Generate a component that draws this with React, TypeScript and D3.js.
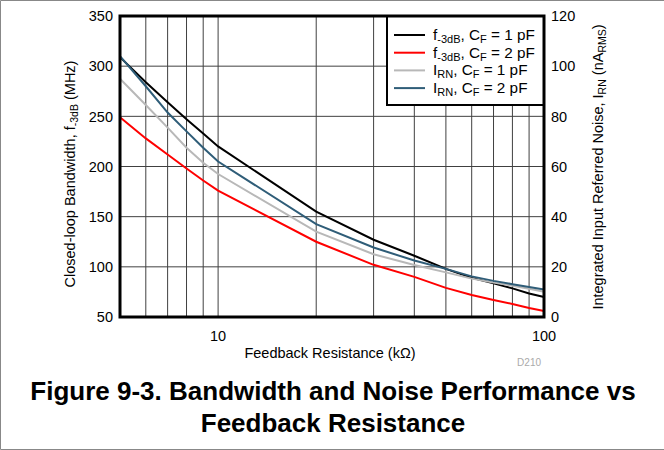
import * as d3 from 'd3'
import React from 'react'

// feedback resistance (kOhm)
const rf = [5, 6, 7, 8, 9, 10, 20, 30, 40, 50, 60, 70, 80, 90, 100]
// closed-loop bandwidth (MHz), left axis
const bw1pF = [309, 284, 264, 247, 233, 220, 155, 127, 111, 98, 89, 83.5, 78.5, 73.5, 70]
const bw2pF = [249, 228, 212, 198, 186, 176, 125, 102, 90, 79, 72, 67, 63, 59, 56]
// integrated input referred noise (nA rms), right axis
const irn1pF = [95, 84.5, 75.5, 67.5, 61.5, 57, 34, 25, 20.7, 17.8, 15.3, 13.7, 12.5, 11.3, 10.1]
const irn2pF = [104, 92, 81.5, 74, 67.5, 62, 37, 27.7, 22.5, 19.2, 16.2, 14.4, 13.1, 12, 11]

const leftTicks = [50, 100, 150, 200, 250, 300, 350]
const rightTicks = [0, 20, 40, 60, 80, 100, 120]
const xLabels = [10, 100]
const xGrid = [6, 7, 8, 9, 10, 20, 30, 40, 50, 60, 70, 80, 90]

const font = 'Liberation Sans, Arial, Helvetica, sans-serif'

export default function App() {
  const
    W = 664, H = 450,
    m = { left: 120, right: 544, top: 16, bottom: 317 },
    x = d3.scaleLog().domain([5, 100]).range([m.left, m.right]),
    yL = d3.scaleLinear().domain([50, 350]).range([m.bottom, m.top]),
    yR = d3.scaleLinear().domain([0, 120]).range([m.bottom, m.top])

  const lineOn = (scale: d3.ScaleLinear<number, number>, vals: number[]) =>
    d3.line<number>().x((_, i) => x(rf[i])).y(d => scale(d))(vals) as string

  const series = [
    { vals: bw1pF, scale: yL, color: '#000000', main: 'f', sub: '-3dB', cf: '1' },
    { vals: bw2pF, scale: yL, color: '#ff0000', main: 'f', sub: '-3dB', cf: '2' },
    { vals: irn1pF, scale: yR, color: '#b8b8b8', main: 'I', sub: 'RN', cf: '1' },
    { vals: irn2pF, scale: yR, color: '#2f5d78', main: 'I', sub: 'RN', cf: '2' },
  ]

  const leg = { x0: 387, y0: m.top, x1: m.right, y1: 105 }

  return (
    <svg width={W} height={H} style={{ position: 'absolute', left: 0, top: 0, background: '#fff' }} fontFamily={font}>
      <path d={`M0.5,0.5H${W}M0.5,0.5V${H - 0.5}H${W}`} stroke='#888' fill='none' />

      {/* grid */}
      {xGrid.map(v => <line key={'gx' + v} x1={x(v)} x2={x(v)} y1={m.top} y2={m.bottom} stroke='#404040' strokeWidth={1} />)}
      {leftTicks.slice(1, -1).map(v => <line key={'gy' + v} x1={m.left} x2={m.right} y1={yL(v)} y2={yL(v)} stroke='#404040' strokeWidth={1} />)}

      {/* curves */}
      {series.map((s, i) => <path key={i} d={lineOn(s.scale, s.vals)} fill='none' stroke={s.color} strokeWidth={2} />)}

      {/* legend */}
      <rect x={leg.x0} y={leg.y0} width={leg.x1 - leg.x0} height={leg.y1 - leg.y0} fill='#fff' stroke='#000' strokeWidth={2} />
      {series.map((s, i) => {
        const ly = 35 + i * 17.7
        return (
          <g key={'l' + i}>
            <line x1={394} x2={425} y1={ly} y2={ly} stroke={s.color} strokeWidth={2} />
            <text x={433} y={ly + 5} fontSize={15.3} fill='#000'>
              {s.main}<tspan fontSize={11} dy={3}>{s.sub}</tspan><tspan dy={-3}>, C</tspan><tspan fontSize={11} dy={3}>F</tspan><tspan dy={-3}> = {s.cf} pF</tspan>
            </text>
          </g>
        )
      })}

      {/* frame */}
      <rect x={m.left} y={m.top} width={m.right - m.left} height={m.bottom - m.top} fill='none' stroke='#000' strokeWidth={3} />

      {/* tick labels */}
      {leftTicks.map(v => <text key={'tl' + v} x={113} y={yL(v)} dy='0.36em' textAnchor='end' fontSize={14.5}>{v}</text>)}
      {rightTicks.map(v => <text key={'tr' + v} x={551} y={yR(v)} dy='0.36em' textAnchor='start' fontSize={14.5}>{v}</text>)}
      {xLabels.map(v => <text key={'tx' + v} x={x(v)} y={341} textAnchor='middle' fontSize={14.5}>{v}</text>)}

      {/* axis titles */}
      <text x={330} y={358} textAnchor='middle' fontSize={14.5}>Feedback Resistance (k&#937;)</text>
      <text x={541} y={366} textAnchor='end' fontSize={10} fill='#aaa'>D210</text>
      <text transform='translate(75,174) rotate(-90)' textAnchor='middle' fontSize={14.5}>
        Closed-loop Bandwidth, f<tspan fontSize={10.5} dy={3}>-3dB</tspan><tspan dy={-3}> (MHz)</tspan>
      </text>
      <text transform='translate(603,167) rotate(-90)' textAnchor='middle' fontSize={14.5}>
        Integrated Input Referred Noise, I<tspan fontSize={10.5} dy={3}>RN</tspan><tspan dy={-3}> (nA</tspan><tspan fontSize={10.5} dy={3}>RMS</tspan><tspan dy={-3}>)</tspan>
      </text>

      {/* caption */}
      <text x={333} y={400} textAnchor='middle' fontSize={26} fontWeight='bold'>Figure 9-3. Bandwidth and Noise Performance vs</text>
      <text x={333} y={432} textAnchor='middle' fontSize={26} fontWeight='bold'>Feedback Resistance</text>
    </svg>
  )
}
